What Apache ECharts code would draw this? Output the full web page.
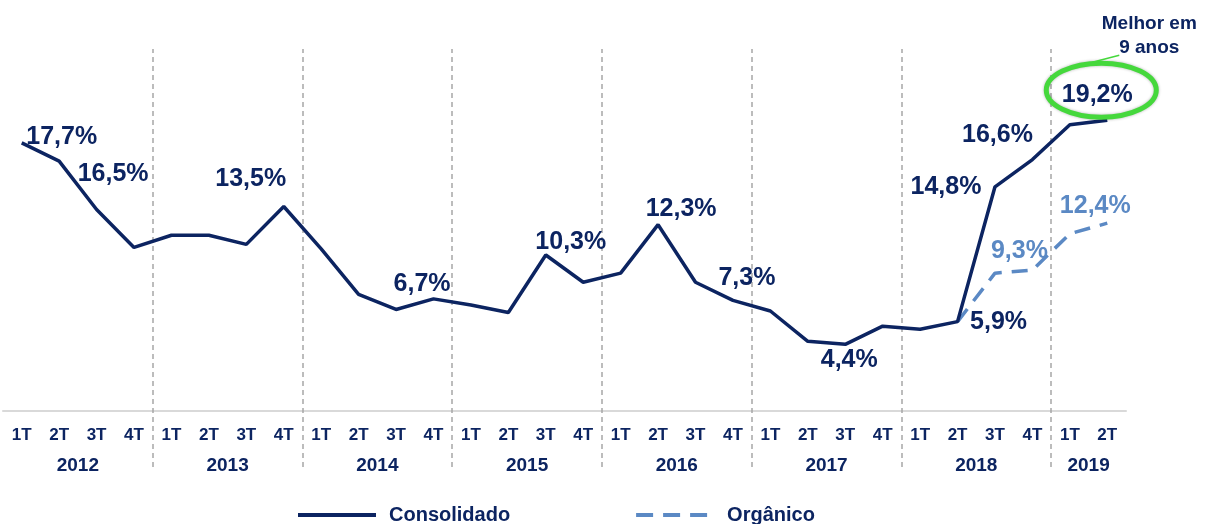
<!DOCTYPE html>
<html>
<head>
<meta charset="utf-8">
<script src="https://cdn.jsdelivr.net/npm/echarts@6/dist/echarts.min.js"></script>
<style>
  html, body { margin: 0; padding: 0; background: #fff; }
  #chart { width: 1206px; height: 524px; }
</style>
</head>
<body>
<div id="chart"></div>
<script>
// data (%)
var quarters = ['1T','2T','3T','4T','1T','2T','3T','4T','1T','2T','3T','4T','1T','2T','3T','4T',
                '1T','2T','3T','4T','1T','2T','3T','4T','1T','2T','3T','4T','1T','2T'];
var years = ['2012','2013','2014','2015','2016','2017','2018','2019'];
var quartersPerYear = [4, 4, 4, 4, 4, 4, 4, 2];
var consolidado = [17.7, 16.5, 13.3, 10.8, 11.6, 11.6, 11.0, 13.5,
                   10.7, 7.7, 6.7, 7.4, 7.0, 6.5, 10.3, 8.5,
                   9.1, 12.3, 8.5, 7.3, 6.6, 4.6, 4.4, 5.6,
                   5.4, 5.9, 14.8, 16.6, 18.9, 19.2];
var organico = [null, null, null, null, null, null, null, null,
                null, null, null, null, null, null, null, null,
                null, null, null, null, null, null, null, null,
                null, 5.9, 9.1, 9.3, 11.7, 12.4];
// which points carry a value label
var consolidadoLabeled = [0, 1, 7, 10, 14, 17, 19, 22, 25, 26, 27, 29];
var organicoLabeled = [27, 29];

// label placement (offset of label centre from the point)
var consolidadoOffsets = [[40, -6], [54, 13], [-33, -27], [26, -25], [25, -13], [23, -16],
                          [14, -22], [4, 16], [41, 1], [-49, 0], [-35, -24], [-10, -25]];
var organicoOffsets = [[-13, -19], [-12, -17]];

var navy = '#0c2461';
var blue = '#5b89c4';
var font = "'Liberation Sans', Arial, sans-serif";

function pct(v) {
    return v.toFixed(1).replace('.', ',') + '%';
}

function withLabels(values, shown, offsets) {
    return values.map(function (v, i) {
        var k = shown.indexOf(i);
        if (v == null || k < 0) return v;
        return { value: v, label: { show: true, offset: offsets[k] } };
    });
}

// year label centres and year dividers, in category units
var yearCenters = [];
var yearBreaks = [];
var start = 0;
quartersPerYear.forEach(function (n, i) {
    yearCenters.push(start + (n - 1) / 2);
    if (i > 0) yearBreaks.push(start - 0.5);
    start += n;
});

var chart = echarts.init(document.getElementById('chart'));

var option = {
    animation: false,
    textStyle: { fontFamily: font },
    grid: { left: 3, right: 80, top: 49, bottom: 57, outerBoundsMode: 'none' },
    legend: {
        top: 500,
        left: 291,
        itemWidth: 78,
        itemHeight: 14,
        itemGap: 124,
        itemStyle: { opacity: 0 },
        lineStyle: { width: 4 },
        textStyle: { color: navy, fontSize: 20, fontWeight: 'bold', fontFamily: font, padding: [0, 0, 0, 8] },
        data: [
            { name: 'Consolidado' },
            { name: 'Orgânico', lineStyle: { width: 4, type: [17, 10] } }
        ]
    },
    xAxis: [{
        type: 'category',
        data: quarters,
        position: 'bottom',
        axisLine: { onZero: true, onZeroAxisIndex: 0, lineStyle: { color: '#d9d9d9', width: 2 } },
        axisTick: { show: false },
        axisLabel: { color: navy, fontSize: 17, fontWeight: 'bold', margin: -40, interval: 0 },
        splitLine: { show: false }
    }, {
        type: 'value',
        min: -0.5,
        max: 29.5,
        position: 'bottom',
        axisLine: { show: false, onZero: false },
        axisTick: {
            show: true,
            inside: true,
            length: 418,
            customValues: yearBreaks,
            lineStyle: { color: '#a6a6a6', width: 1.5, type: [5, 4] }
        },
        splitLine: { show: false },
        axisLabel: {
            customValues: yearCenters,
            formatter: function (v) { return years[yearCenters.indexOf(v)]; },
            color: navy, fontSize: 19, fontWeight: 'bold', margin: -11
        }
    }],
    yAxis: { type: 'value', min: -3.7, max: 23.9, show: false },
    series: [{
        name: 'Consolidado',
        type: 'line',
        data: withLabels(consolidado, consolidadoLabeled, consolidadoOffsets),
        symbol: 'circle',
        symbolSize: 0.1,
        itemStyle: { color: navy },
        lineStyle: { color: navy, width: 3.5 },
        label: {
            show: false, position: 'inside', color: navy, fontSize: 25, fontWeight: 'bold', fontFamily: font,
            formatter: function (p) { return pct(p.value); }
        },
        z: 3
    }, {
        name: 'Orgânico',
        type: 'line',
        data: withLabels(organico, organicoLabeled, organicoOffsets),
        symbol: 'circle',
        symbolSize: 0.1,
        itemStyle: { color: blue },
        lineStyle: { color: blue, width: 3.5, type: [16, 10] },
        label: {
            show: false, position: 'inside', color: blue, fontSize: 25, fontWeight: 'bold', fontFamily: font,
            formatter: function (p) { return pct(p.value); }
        },
        z: 2
    }]
};
chart.setOption(option);

// callout around the last point
var last = consolidado.length - 1;
var p = chart.convertToPixel({ xAxisIndex: 0, yAxisIndex: 0 }, [last, consolidado[last]]);
chart.setOption({
    graphic: [{
        type: 'ellipse',
        shape: { cx: p[0] - 6, cy: p[1] - 30, rx: 55, ry: 27 },
        style: { fill: 'none', stroke: '#45d83c', lineWidth: 5, shadowBlur: 3, shadowColor: 'rgba(0,0,0,0.3)' },
        z: 10
    }, {
        type: 'line',
        shape: { x1: p[0] - 15, y1: p[1] - 58, x2: p[0] + 12, y2: p[1] - 65 },
        style: { stroke: '#45d83c', lineWidth: 1.5 },
        z: 10
    }, {
        type: 'text',
        x: p[0] + 42,
        y: p[1] - 84,
        style: {
            text: 'Melhor em\n9 anos',
            fill: navy,
            font: 'bold 19px ' + font,
            align: 'center',
            verticalAlign: 'middle',
            lineHeight: 24
        },
        z: 10
    }]
});
</script>
</body>
</html>
